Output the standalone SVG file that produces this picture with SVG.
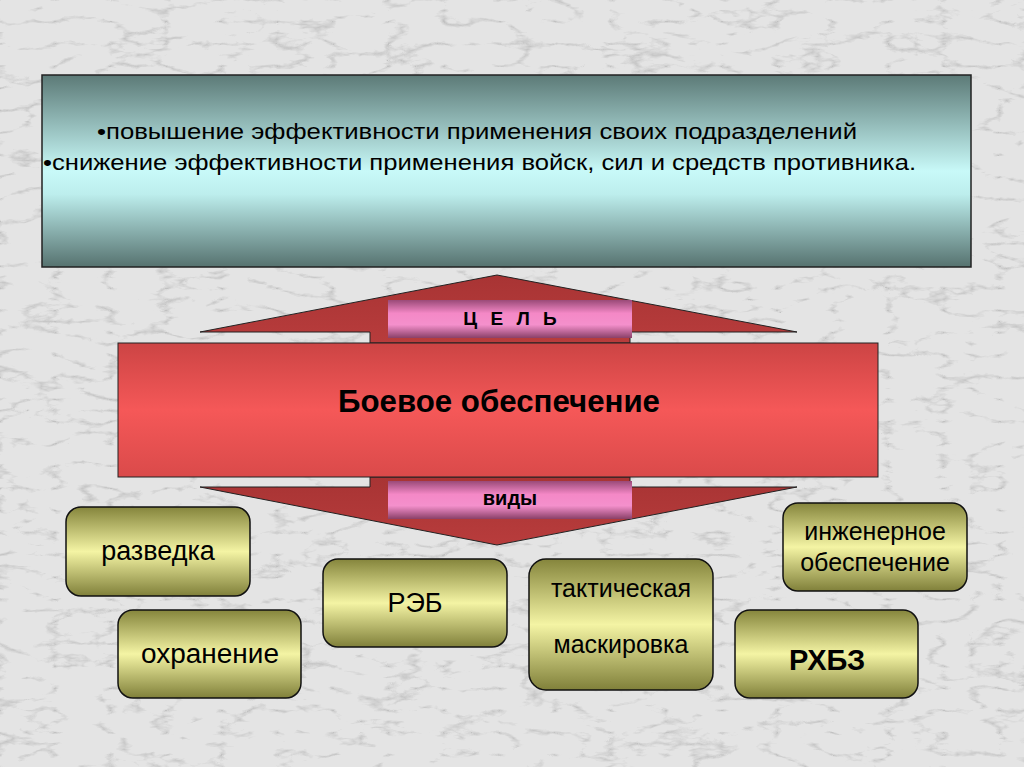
<svg xmlns="http://www.w3.org/2000/svg" width="1024" height="767" viewBox="0 0 1024 767">
<defs>
<filter id="marble" x="0" y="0" width="100%" height="100%">
<feTurbulence type="turbulence" baseFrequency="0.018 0.045" numOctaves="4" seed="11" result="n"/>
<feColorMatrix type="matrix" in="n" values="0 0 0 0 0.5  0 0 0 0 0.5  0 0 0 0 0.5  -4 0 0 0 0.85" result="veins"/>
<feFlood flood-color="#e4e4e4" result="base"/>
<feComposite in="veins" in2="base" operator="over"/>
</filter>
<linearGradient id="gTop" x1="0" y1="0" x2="0" y2="1">
<stop offset="0" stop-color="#5c7a77"/>
<stop offset="0.5" stop-color="#c8f9f8"/>
<stop offset="0.62" stop-color="#bdeeed"/>
<stop offset="1" stop-color="#56726f"/>
</linearGradient>
<linearGradient id="gRed" x1="0" y1="0" x2="0" y2="1">
<stop offset="0" stop-color="#cc4444"/>
<stop offset="0.5" stop-color="#f55858"/>
<stop offset="1" stop-color="#da4a4a"/>
</linearGradient>
<linearGradient id="gTri" x1="0" y1="0" x2="0" y2="1">
<stop offset="0" stop-color="#a83434"/>
<stop offset="1" stop-color="#b83c3c"/>
</linearGradient>
<linearGradient id="gPink" x1="0" y1="0" x2="0" y2="1">
<stop offset="0" stop-color="#9a4a78"/>
<stop offset="0.35" stop-color="#f488c6"/>
<stop offset="0.65" stop-color="#f490cc"/>
<stop offset="1" stop-color="#8a4068"/>
</linearGradient>
<linearGradient id="gOlive" x1="0" y1="0" x2="0" y2="1">
<stop offset="0" stop-color="#85853c"/>
<stop offset="0.5" stop-color="#f4f4a4"/>
<stop offset="1" stop-color="#80803a"/>
</linearGradient>
<style>
.box{fill:url(#gOlive);stroke:#111;stroke-width:1.5}
.t{font-family:"Liberation Sans",Arial,sans-serif;fill:#000;text-anchor:middle}
.lbl{font-size:27px}
.lbl2{font-size:25px}
</style>
</defs>
<rect x="0" y="0" width="1024" height="767" fill="#e4e4e4"/>
<rect x="0" y="0" width="1024" height="767" filter="url(#marble)"/>

<g id="goal">
<rect x="42" y="75" width="929" height="192" fill="url(#gTop)" stroke="#222" stroke-width="1.5"/>
<text class="t" x="97" y="139" font-size="22" style="text-anchor:start" textLength="760" lengthAdjust="spacingAndGlyphs">•повышение эффективности применения своих подразделений</text>
<text class="t" x="43" y="170" font-size="22" style="text-anchor:start" textLength="873" lengthAdjust="spacingAndGlyphs">•снижение эффективности применения войск, сил и средств противника.</text>
</g>

<g id="arrow">
<polygon points="497,275 797,332 630,332 630,343 370,343 370,332 200,332" fill="url(#gTri)" stroke="#222" stroke-width="1"/>
<polygon points="200,487 370,487 370,477 630,477 630,487 797,487 497,545" fill="url(#gTri)" stroke="#222" stroke-width="1"/>
<rect x="118" y="343" width="760" height="134" fill="url(#gRed)" stroke="#222" stroke-width="1"/>
<text class="t" x="499" y="412" font-size="31" font-weight="bold" textLength="322" lengthAdjust="spacingAndGlyphs">Боевое обеспечение</text>
</g>

<g id="label-goal">
<rect x="388" y="300" width="244" height="38" fill="url(#gPink)"/>
<text class="t" x="512" y="325" font-size="19" font-weight="bold" letter-spacing="4">Ц Е Л Ь</text>
</g>
<g id="label-types">
<rect x="388" y="481" width="244" height="38" fill="url(#gPink)"/>
<text class="t" x="510" y="505" font-size="20" font-weight="bold">виды</text>
</g>

<g id="razvedka">
<rect class="box" x="66" y="507" width="184" height="89" rx="15"/>
<text class="t lbl" x="158" y="560">разведка</text>
</g>
<g id="ohranenie">
<rect class="box" x="118" y="610" width="183" height="88" rx="15"/>
<text class="t lbl" x="210" y="663" textLength="138" lengthAdjust="spacingAndGlyphs">охранение</text>
</g>
<g id="reb">
<rect class="box" x="323" y="559" width="184" height="88" rx="15"/>
<text class="t lbl" x="415" y="612">РЭБ</text>
</g>
<g id="maskirovka">
<rect class="box" x="529" y="559" width="184" height="131" rx="17"/>
<text class="t lbl2" x="621" y="597">тактическая</text>
<text class="t lbl2" x="621" y="653">маскировка</text>
</g>
<g id="inzhenernoe">
<rect class="box" x="783" y="503" width="184" height="88" rx="15"/>
<text class="t lbl2" x="875" y="540">инженерное</text>
<text class="t lbl2" x="875" y="571">обеспечение</text>
</g>
<g id="rhbz">
<rect class="box" x="735" y="610" width="183" height="88" rx="15"/>
<text class="t" x="827" y="670" font-size="29" font-weight="bold">РХБЗ</text>
</g>

<g id="connectors"></g>
</svg>
